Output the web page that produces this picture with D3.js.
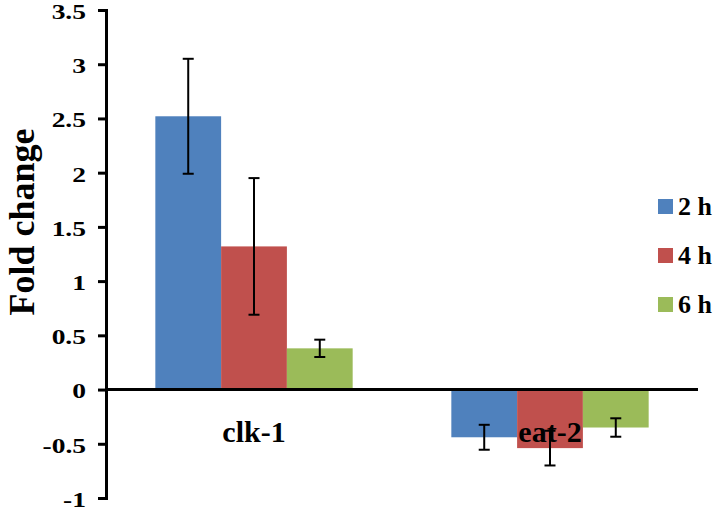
<!DOCTYPE html>
<html>
<head>
<meta charset="utf-8">
<script src="https://cdn.jsdelivr.net/npm/d3@7"></script>
<style>
  body { margin: 0; background: #fff; }
  svg text { font-family: "Liberation Serif", "Times New Roman", serif; font-weight: bold; fill: #000; }
</style>
</head>
<body>
<div id="chart"></div>
<script>
const categories = ["clk-1", "eat-2"];
const series = ["2 h", "4 h", "6 h"];
const values2h = [2.52, -0.44];
const values4h = [1.32, -0.54];
const values6h = [0.38, -0.35];
const errors2h = [0.53, 0.115];
const errors4h = [0.63, 0.16];
const errors6h = [0.08, 0.085];
const yTicks = [3.5, 3, 2.5, 2, 1.5, 1, 0.5, 0, -0.5, -1];
const colors = ["#4F81BD", "#C0504D", "#9BBB59"];

const serif = "'Liberation Serif', 'Times New Roman', serif";
const width = 716, height = 511;
const svg = d3.select("#chart").append("svg")
  .attr("width", width)
  .attr("height", height);

const y = d3.scaleLinear().domain([-1, 3.5]).range([498, 10]);
const x0 = d3.scaleBand().domain(categories).range([106, 698])
  .paddingInner(1 / 3).paddingOuter(1 / 6);
const x1 = d3.scaleBand().domain(series).range([0, x0.bandwidth()]);
const color = d3.scaleOrdinal().domain(series).range(colors);

const allValues = [values2h, values4h, values6h];
const allErrors = [errors2h, errors4h, errors6h];
const rows = [];
categories.forEach((c, i) => {
  series.forEach((s, j) => {
    rows.push({ cat: c, ser: s, value: allValues[j][i], err: allErrors[j][i] });
  });
});

// bars
svg.selectAll(".bar")
  .data(rows)
  .enter().append("rect")
  .attr("class", "bar")
  .attr("x", d => x0(d.cat) + x1(d.ser))
  .attr("y", d => y(Math.max(0, d.value)))
  .attr("width", x1.bandwidth())
  .attr("height", d => Math.abs(y(d.value) - y(0)))
  .attr("fill", d => color(d.ser));

// y axis
const yAxis = svg.append("g")
  .attr("transform", "translate(106,0)")
  .call(d3.axisLeft(y).tickValues(yTicks).tickSize(8).tickSizeOuter(8).tickPadding(13)
    .tickFormat(d => String(d)));
yAxis.attr("font-family", serif);
yAxis.select(".domain").attr("stroke", "#000").attr("stroke-width", 3);
yAxis.selectAll(".tick line").attr("stroke", "#000").attr("stroke-width", 3);
// labels in the reference look a bit wide, so stretch them horizontally
const stretch = 1.25;
yAxis.selectAll(".tick text")
  .attr("font-size", 22)
  .attr("dy", "0.38em")
  .attr("x", -20 / stretch)
  .attr("transform", `scale(${stretch},1)`)
  .style("font-family", serif)
  .style("font-weight", "bold")
  .attr("fill", "#000");

// zero line
svg.append("line")
  .attr("x1", 106).attr("x2", 698)
  .attr("y1", y(0)).attr("y2", y(0))
  .attr("stroke", "#000").attr("stroke-width", 3);

// error bars
const eb = svg.selectAll(".err")
  .data(rows)
  .enter().append("g")
  .attr("class", "err")
  .attr("stroke", "#000")
  .attr("stroke-width", 2);
const cx = d => x0(d.cat) + x1(d.ser) + x1.bandwidth() / 2;
eb.append("line")
  .attr("x1", cx).attr("x2", cx)
  .attr("y1", d => y(d.value + d.err)).attr("y2", d => y(d.value - d.err));
eb.append("line")
  .attr("x1", d => cx(d) - 5.5).attr("x2", d => cx(d) + 5.5)
  .attr("y1", d => y(d.value + d.err)).attr("y2", d => y(d.value + d.err));
eb.append("line")
  .attr("x1", d => cx(d) - 5.5).attr("x2", d => cx(d) + 5.5)
  .attr("y1", d => y(d.value - d.err)).attr("y2", d => y(d.value - d.err));

// category labels
svg.selectAll(".cat")
  .data(categories)
  .enter().append("text")
  .attr("class", "cat")
  .attr("x", d => x0(d) + x0.bandwidth() / 2)
  .attr("y", y(0) + 52)
  .attr("text-anchor", "middle")
  .attr("font-size", 30)
  .style("font-family", serif)
  .text(d => d);

// y axis title
svg.append("text")
  .attr("transform", "translate(34,222) rotate(-90)")
  .attr("text-anchor", "middle")
  .attr("font-size", 36)
  .style("font-family", serif)
  .text("Fold change");

// legend
const legend = svg.selectAll(".legend")
  .data(series)
  .enter().append("g")
  .attr("class", "legend")
  .attr("transform", (d, i) => `translate(658,${199 + i * 49})`);
legend.append("rect")
  .attr("width", 15).attr("height", 15)
  .attr("fill", d => color(d));
legend.append("text")
  .attr("x", 20).attr("y", 16)
  .attr("font-size", 26)
  .style("font-family", serif)
  .text(d => d);
</script>
</body>
</html>
